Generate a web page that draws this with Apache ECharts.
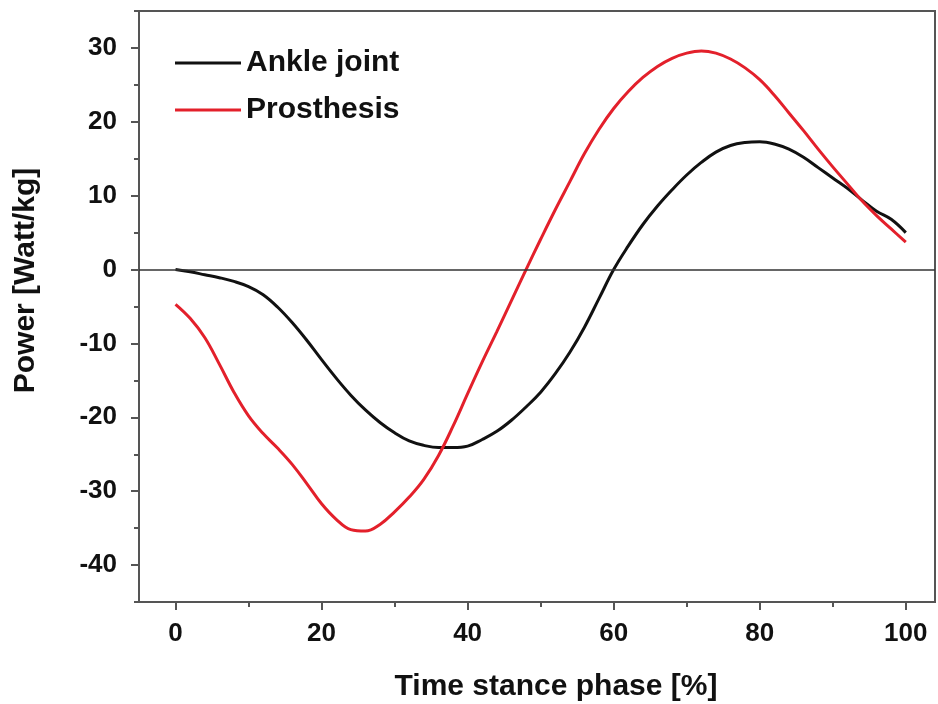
<!DOCTYPE html>
<html>
<head>
<meta charset="utf-8">
<script src="https://cdn.jsdelivr.net/npm/echarts@6/dist/echarts.min.js"></script>
<style>html,body{margin:0;padding:0;background:#fff}#c{width:938px;height:704px}</style>
</head>
<body>
<div id="c"></div>
<script>
const phase = [0,2,4,6,8,10,12,14,16,18,20,22,24,26,28,30,32,34,36,38,40,42,44,46,48,50,52,54,56,58,60,62,64,66,68,70,72,74,76,78,80,82,84,86,88,90,92,94,96,98,100];
const ankleJoint = [0,-0.3,-0.7,-1.1,-1.6,-2.3,-3.4,-5.1,-7.2,-9.6,-12.2,-14.7,-17.0,-19.0,-20.7,-22.1,-23.2,-23.8,-24.1,-24.1,-23.9,-23.0,-21.9,-20.4,-18.6,-16.6,-14.1,-11.2,-7.8,-3.9,0,3.2,6.1,8.6,10.8,12.8,14.5,15.9,16.8,17.2,17.3,17.0,16.3,15.2,13.8,12.4,11.0,9.4,7.9,6.8,5.0];
const prosthesis = [-4.7,-6.6,-9.2,-12.8,-16.6,-19.8,-22.2,-24.2,-26.4,-29.0,-31.7,-33.8,-35.2,-35.4,-34.5,-32.8,-30.8,-28.4,-25.2,-21.2,-16.8,-12.5,-8.4,-4.2,0,4.1,8.1,11.9,15.7,19.0,21.8,24.1,26.0,27.5,28.6,29.3,29.6,29.3,28.5,27.3,25.7,23.6,21.2,18.8,16.3,13.9,11.6,9.3,7.3,5.5,3.7];
const xMajorTicks = [0,20,40,60,80,100];
const xMinorTicks = [10,30,50,70,90];
const yMajorTicks = [-40,-30,-20,-10,0,10,20,30];
const yMinorTicks = [-45,-35,-25,-15,-5,5,15,25,35];

const font = 'Liberation Sans, Arial, sans-serif';
const axisColor = '#555';
const chart = echarts.init(document.getElementById('c'));
const pairs = (ys) => phase.map((x, i) => [x, ys[i]]);

chart.setOption({
  animation: false,
  backgroundColor: '#fff',
  grid: {left: 139, right: 3, top: 11, bottom: 102, show: true, borderColor: axisColor, borderWidth: 2, outerBoundsMode: 'none'},
  legend: {
    orient: 'vertical', left: 170, top: 43, itemWidth: 66, itemHeight: 14, itemGap: 17,
    textStyle: {fontFamily: font, fontSize: 30, fontWeight: 'bold', color: '#111'},
    data: [{name: 'Ankle joint', icon: 'path://M0,0L66,0L66,3L0,3Z'}, {name: 'Prosthesis', icon: 'path://M0,0L66,0L66,3L0,3Z'}]
  },
  xAxis: [
    {type: 'value', min: -5, max: 104, position: 'bottom',
     axisLine: {show: true, onZero: false, lineStyle: {color: axisColor, width: 2}},
     axisTick: {show: true, customValues: xMajorTicks, length: 8, lineStyle: {color: axisColor, width: 2}},
     axisLabel: {customValues: xMajorTicks, margin: 19, fontFamily: font, fontSize: 26, fontWeight: 'bold', color: '#111'},
     splitLine: {show: false},
     name: 'Time stance phase [%]', nameLocation: 'middle', nameGap: 70,
     nameTextStyle: {fontFamily: font, fontSize: 30, fontWeight: 'bold', color: '#111', padding: [0,0,0,38]}},
    {type: 'value', min: -5, max: 104, position: 'bottom',
     axisLine: {show: false, onZero: false},
     axisTick: {show: true, customValues: xMinorTicks, length: 5, lineStyle: {color: axisColor, width: 2}},
     axisLabel: {show: false}, splitLine: {show: false}}
  ],
  yAxis: [
    {type: 'value', min: -45, max: 35, position: 'left',
     axisLine: {show: true, onZero: false, lineStyle: {color: axisColor, width: 2}},
     axisTick: {show: true, customValues: yMajorTicks, length: 8, lineStyle: {color: axisColor, width: 2}},
     axisLabel: {customValues: yMajorTicks, margin: 22, fontFamily: font, fontSize: 26, fontWeight: 'bold', color: '#111'},
     splitLine: {show: false},
     name: 'Power [Watt/kg]', nameLocation: 'middle', nameGap: 98,
     nameTextStyle: {fontFamily: font, fontSize: 30, fontWeight: 'bold', color: '#111', padding: [0,0,0,52]}},
    {type: 'value', min: -45, max: 35, position: 'left',
     axisLine: {show: false, onZero: false},
     axisTick: {show: true, customValues: yMinorTicks, length: 5, lineStyle: {color: axisColor, width: 2}},
     axisLabel: {show: false}, splitLine: {show: false}}
  ],
  series: [
    {name: 'Ankle joint', type: 'line', data: pairs(ankleJoint), smooth: 0.4, showSymbol: false, symbol: 'none',
     lineStyle: {color: '#111', width: 3}, itemStyle: {color: '#111'},
     markLine: {silent: true, symbol: 'none', label: {show: false}, lineStyle: {color: '#333', width: 1.5, type: 'solid'}, data: [{yAxis: 0}]}},
    {name: 'Prosthesis', type: 'line', data: pairs(prosthesis), smooth: 0.4, showSymbol: false, symbol: 'none',
     lineStyle: {color: '#e3202b', width: 3}, itemStyle: {color: '#e3202b'}}
  ]
});
</script>
</body>
</html>
